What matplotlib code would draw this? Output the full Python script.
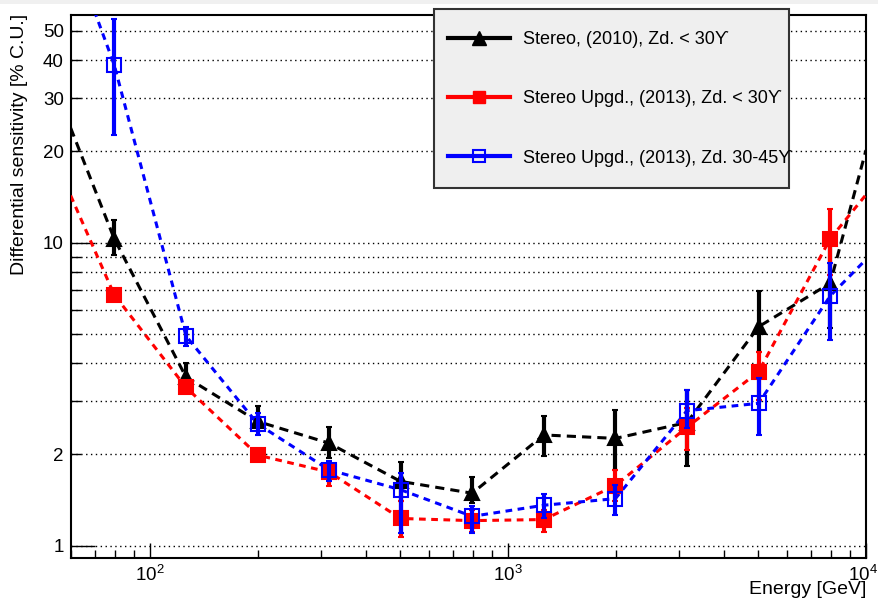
import numpy as np
import matplotlib.pyplot as plt
from matplotlib.lines import Line2D
from matplotlib.patches import Rectangle
from matplotlib.ticker import FixedLocator, FixedFormatter
from matplotlib.transforms import ScaledTranslation

plt.rcParams['font.family'] = ['Liberation Sans', 'DejaVu Sans']

# energy bins [GeV], 5 per decade
energy = np.array([79.4, 126, 200, 316, 501, 794, 1259, 1995, 3162, 5012, 7943])
# the dashed curves run on to the frame edges
edge_energy = [60, 10000]

# Stereo (2010), Zd < 30
stereo = np.array([10.3, 3.6, 2.57, 2.18, 1.63, 1.49, 2.32, 2.26, 2.55, 5.28, 7.35])
stereo_lo = np.array([9.1, 3.44, 2.48, 1.94, 1.40, 1.38, 1.97, 1.78, 1.83, 4.37, 5.22])
stereo_hi = np.array([11.9, 4.0, 2.89, 2.46, 1.89, 1.69, 2.68, 2.80, 3.26, 6.94, 9.97])
stereo_edge = [23.9, 20.2]

# Stereo upgraded (2013), Zd < 30
upgd = np.array([6.73, 3.33, 1.99, 1.75, 1.23, 1.21, 1.22, 1.58, 2.46, 3.75, 10.3])
upgd_lo = np.array([6.73, 3.33, 1.99, 1.57, 1.07, 1.11, 1.11, 1.40, 2.07, 3.02, 7.8])
upgd_hi = np.array([6.73, 3.33, 1.99, 1.89, 1.40, 1.31, 1.31, 1.78, 2.84, 4.37, 12.9])
upgd_edge = [14.3, 14.4]

# Stereo upgraded (2013), Zd 30-45
upgd_hz = np.array([38.6, 4.92, 2.52, 1.78, 1.53, 1.25, 1.36, 1.43, 2.79, 2.95, 6.67])
upgd_hz_lo = np.array([22.7, 4.57, 2.32, 1.63, 1.10, 1.10, 1.23, 1.26, 2.44, 2.32, 4.77])
upgd_hz_hi = np.array([54.8, 5.26, 2.74, 1.91, 1.74, 1.35, 1.48, 1.59, 3.26, 3.57, 8.6])
upgd_hz_edge = [95, 8.8]

labels = ['Stereo, (2010), Zd. < 30\u03d2',
          'Stereo Upgd., (2013), Zd. < 30\u03d2',
          'Stereo Upgd., (2013), Zd. 30-45\u03d2']

W, H = 879, 602
fig = plt.figure(figsize=(W / 100, H / 100), dpi=100)
fig.add_artist(Rectangle((0, 1 - 4 / H), 1, 4 / H, transform=fig.transFigure,
                         color='#f0f0f0', lw=0))
ax = fig.add_axes([0.0804, 0.0736, 0.9048, 0.9015])

series = [
    (stereo, stereo_lo, stereo_hi, stereo_edge, 'black', '^', 'black', (3, 2)),
    (upgd, upgd_lo, upgd_hi, upgd_edge, 'red', 's', 'red', (2.2, 1.8)),
    (upgd_hz, upgd_hz_lo, upgd_hz_hi, upgd_hz_edge, 'blue', 's', 'none', (2.2, 1.8)),
]

for i, (y, lo, hi, edge, col, mk, face, dash) in enumerate(series):
    xs = np.concatenate([[edge_energy[0]], energy, [edge_energy[1]]])
    ys = np.concatenate([[edge[0]], y, [edge[1]]])
    ax.plot(xs, ys, color=col, lw=2.2, dashes=dash, zorder=2 + i)
    ax.errorbar(energy, y, yerr=[y - lo, hi - y], fmt=mk, color=col, mfc=face,
                mec=col, mew=1.5, ms=10 if mk == '^' else 9.5, elinewidth=3,
                capsize=2, capthick=3, zorder=5 + i)

ax.set_xscale('log')
ax.set_yscale('log')
ax.set_xlim(60, 10000)
ax.set_ylim(0.913, 56.4)

# ROOT style y axis: labels on 1, 2, 10, 20 ... 50 only
ax.yaxis.set_major_locator(FixedLocator([1, 10]))
ax.yaxis.set_major_formatter(FixedFormatter(['1', '10']))
ax.yaxis.set_minor_locator(FixedLocator([2, 3, 4, 5, 6, 7, 8, 9, 20, 30, 40, 50]))
ax.yaxis.set_minor_formatter(FixedFormatter(['2', '', '', '', '', '', '', '', '20', '30', '40', '50']))
ax.xaxis.set_major_locator(FixedLocator([100, 1000, 10000]))

ax.tick_params(axis='y', which='major', direction='in', length=17, width=1, labelsize=13.5, pad=5)
ax.tick_params(axis='y', which='minor', direction='in', length=7.5, width=1, labelsize=13.5, pad=5)
ax.tick_params(axis='x', which='major', direction='in', length=11, width=1, labelsize=13.5, pad=5)
ax.tick_params(axis='x', which='minor', direction='in', length=5.5, width=1)

ax.grid(True, axis='y', which='both', color='black', linestyle=(0, (1, 2.5)), lw=1)
for s in ax.spines.values():
    s.set_linewidth(1.5)

# keep the 10^4 label inside the picture
last = ax.xaxis.get_major_ticks()[2].label1
last.set_transform(last.get_transform() + ScaledTranslation(-3 / 100, 0, fig.dpi_scale_trans))

ax.set_xlabel('Energy [GeV]', fontsize=14, loc='right')
ax.xaxis.set_label_coords(1.0, -0.043)
ax.set_ylabel('Differential sensitivity [% C.U.]', fontsize=14)
ax.yaxis.set_label_coords(-0.054, 0.762)

# legend box drawn ROOT-like, reaching above the frame
box = Rectangle((434.3 / W, 1 - 187.7 / H), (789 - 434.3) / W, (187.7 - 9.3) / H,
                transform=fig.transFigure, facecolor='#efefef', edgecolor='#333333',
                lw=1.5, zorder=19)
fig.add_artist(box)

handles = [
    Line2D([], [], color='black', lw=3, marker='^', ms=10),
    Line2D([], [], color='red', lw=3, marker='s', ms=9),
    Line2D([], [], color='blue', lw=3, marker='s', ms=9, mfc='none', mew=1.5),
]
leg = fig.legend(handles, labels, loc='center left', bbox_to_anchor=(447.7 / W, 1 - 98.8 / H),
                 bbox_transform=fig.transFigure, borderaxespad=0, borderpad=0, fontsize=13,
                 handlelength=3.45, handletextpad=0.7, labelspacing=2.35, frameon=False)
leg.set_zorder(20)

fig.savefig('out.png', dpi=100)
